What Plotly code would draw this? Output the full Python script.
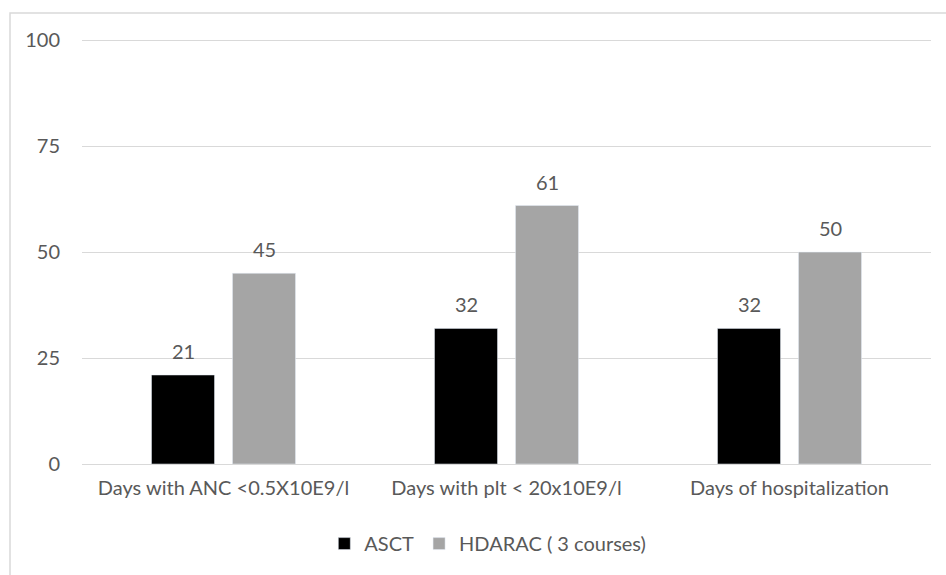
import plotly.graph_objects as go

categories = ["Days with ANC <0.5X10E9/l", "Days with plt < 20x10E9/l", "Days of hospitalization"]
asct = [21, 32, 32]
hdarac = [45, 61, 50]
series_names = ["ASCT", "HDARAC ( 3 courses)"]
y_ticks = [0, 25, 50, 75, 100]

FONT = "Lato, 'Open Sans', sans-serif"
TXT = "#595959"
FS = 20

fig = go.Figure()
fig.add_trace(go.Bar(x=categories, y=asct, name=series_names[0], marker_color="#000000"))
fig.add_trace(go.Bar(x=categories, y=hdarac, name=series_names[1], marker_color="#a5a5a5"))

annotations = []
for vals, shift in ((asct, -40.5), (hdarac, 40.5)):
    for c, v in zip(categories, vals):
        annotations.append(dict(x=c, y=v, xref="x", yref="y", text=str(v), showarrow=False,
                                xshift=shift, yshift=10, yanchor="bottom",
                                font=dict(size=FS, color=TXT, family=FONT)))

fig.update_layout(
    width=946, height=575,
    margin=dict(l=82, r=15, t=36, b=109),
    paper_bgcolor="white", plot_bgcolor="white",
    barmode="group", bargap=0.4276, bargroupgap=0.222,
    font=dict(family=FONT, size=FS, color=TXT),
    showlegend=True,
    legend=dict(orientation="h", x=0.478, xanchor="center", y=-0.186, yanchor="middle",
                font=dict(size=FS, color=TXT, family=FONT), traceorder="normal"),
    xaxis=dict(showgrid=False, showline=True, linecolor="#d9d9d9", linewidth=1,
               ticks="", tickfont=dict(size=FS, color=TXT), ticklabelstandoff=6),
    yaxis=dict(range=[0, 101], tickvals=y_ticks, showgrid=True, gridcolor="#d9d9d9", gridwidth=1,
               zeroline=False, showline=False, ticks="", tickfont=dict(size=FS, color=TXT),
               ticklabelstandoff=21),
    annotations=annotations,
    shapes=[dict(type="rect", xref="paper", yref="paper", x0=-0.0848, x1=1.05, y0=-0.4, y1=1.0535,
                 line=dict(color="#d9d9d9", width=1.5), fillcolor="rgba(0,0,0,0)", layer="below")],
)
fig.write_html("out.html", config={"displayModeBar": False},
               post_script="document.body.style.margin='0';")
